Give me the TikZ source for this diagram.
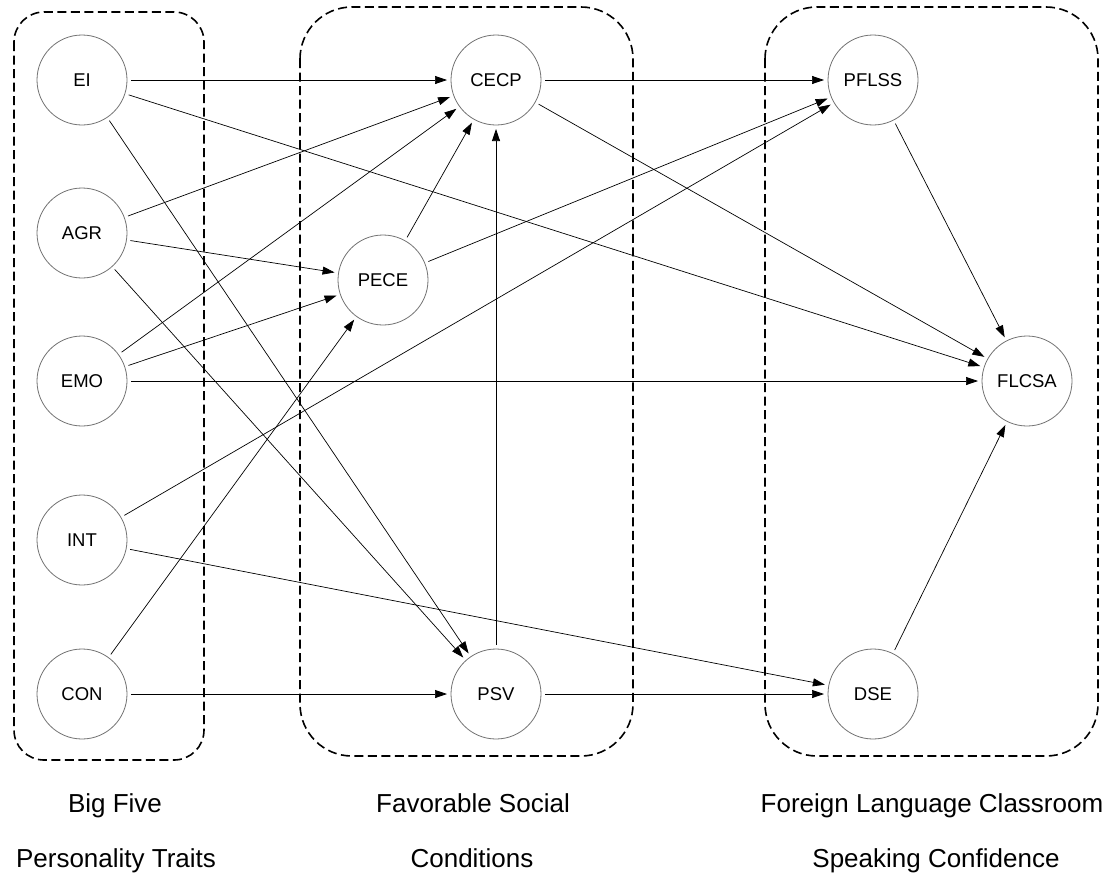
\documentclass[tikz,border=0pt]{standalone}
\usepackage{fontspec}
\setmainfont{Liberation Sans}
\usetikzlibrary{arrows.meta}
\begin{document}
\begin{tikzpicture}[x=1pt,y=-1pt,
  var/.style={circle, draw=black!55, line width=0.8pt, minimum size=90pt, inner sep=0pt, outer sep=4pt, font=\fontsize{18.5}{20}\selectfont},
  lnk/.style={-{Triangle[length=12pt,width=8pt]}, line width=0.7pt},
  grp/.style={draw, line width=1.6pt, dash pattern=on 9pt off 4.5pt},
  grplabel/.style={anchor=base, inner sep=0pt, font=\fontsize{26}{28}\selectfont}
]
\fill[white] (0,0) rectangle (1115,878);
\useasboundingbox (0,0) rectangle (1115,878);

% group boxes
\draw[grp, rounded corners=30pt] (14,12) rectangle (204,760);
\draw[grp, rounded corners=52pt] (300,7) rectangle (633,756);
\draw[grp, rounded corners=52pt] (765,7) rectangle (1098,756);

% nodes
\node[var] (EI) at (82,80) {EI};
\node[var] (AGR) at (82,233) {AGR};
\node[var] (EMO) at (82,381) {EMO};
\node[var] (INT) at (82,540) {INT};
\node[var] (CON) at (82,694) {CON};
\node[var] (CECP) at (496,80) {CECP};
\node[var] (PECE) at (383,280) {PECE};
\node[var] (PSV) at (496,694) {PSV};
\node[var] (PFLSS) at (873,80) {PFLSS};
\node[var] (FLCSA) at (1027,381) {FLCSA};
\node[var] (DSE) at (873,694) {DSE};

% edges
\draw[lnk] (EI) -- (CECP);
\draw[lnk] (EI) -- (FLCSA);
\draw[lnk] (EI) -- (PSV);
\draw[lnk] (AGR) -- (CECP);
\draw[lnk] (AGR) -- (PECE);
\draw[lnk] (AGR) -- (PSV);
\draw[lnk] (EMO) -- (CECP);
\draw[lnk] (EMO) -- (PECE);
\draw[lnk] (EMO) -- (FLCSA);
\draw[lnk] (INT) -- (PFLSS);
\draw[lnk] (INT) -- (DSE);
\draw[lnk] (CON) -- (PECE);
\draw[lnk] (CON) -- (PSV);
\draw[lnk] (CECP) -- (PFLSS);
\draw[lnk] (CECP) -- (FLCSA);
\draw[lnk] (PECE) -- (CECP);
\draw[lnk] (PECE) -- (PFLSS);
\draw[lnk] (PSV) -- (CECP);
\draw[lnk] (PSV) -- (DSE);
\draw[lnk] (PFLSS) -- (FLCSA);
\draw[lnk] (DSE) -- (FLCSA);

% group labels
\node[grplabel] (l1a) at (115,812) {Big Five};
\node[grplabel] (l1b) at (116,867) {Personality Traits};
\node[grplabel] (l2a) at (473,812) {Favorable Social};
\node[grplabel] (l2b) at (472,867) {Conditions};
\node[grplabel] (l3a) at (932,812) {Foreign Language Classroom};
\node[grplabel] (l3b) at (936,867) {Speaking Confidence};
\end{tikzpicture}
\end{document}
